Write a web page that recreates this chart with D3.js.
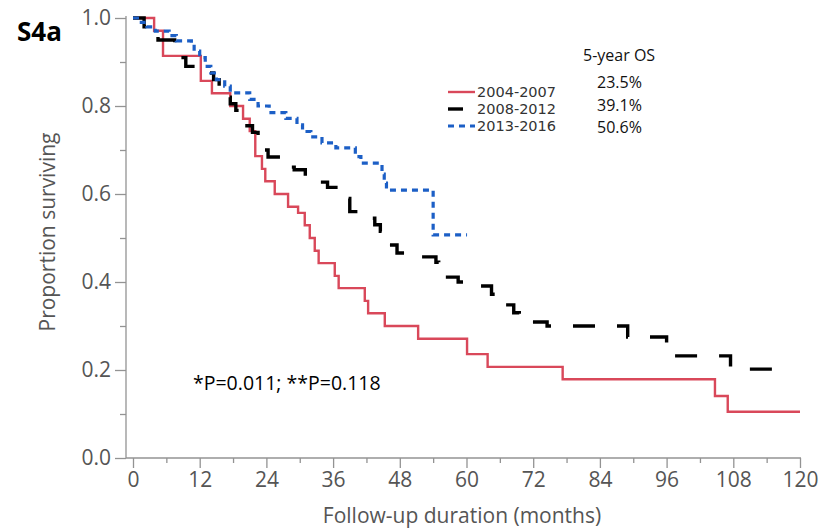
<!DOCTYPE html>
<html>
<head>
<meta charset="utf-8">
<script src="https://cdn.jsdelivr.net/npm/d3@7"></script>
<style>
  body { margin: 0; background: #fff; }
  text { font-family: "Open Sans", "Noto Sans", sans-serif; }
</style>
</head>
<body>
<svg id="chart" width="820" height="530"></svg>
<script>
// Kaplan-Meier survival estimates by diagnosis period (months, proportion surviving)
const redTimes = [0, 3.8, 5.4, 12.2, 14.2, 17.5, 19.8, 21.0, 22.0, 23.2, 23.8, 25.5, 27.9, 29.7, 30.9, 31.8, 32.7, 33.4, 36.3, 37.0, 41.7, 42.3, 45.3, 51.3, 60.1, 63.8, 77.3, 104.7, 107.0, 120];
const redSurv  = [1.0, 0.971, 0.914, 0.857, 0.829, 0.800, 0.771, 0.743, 0.686, 0.657, 0.629, 0.600, 0.571, 0.557, 0.529, 0.500, 0.471, 0.443, 0.414, 0.386, 0.357, 0.329, 0.300, 0.271, 0.236, 0.207, 0.179, 0.141, 0.105, 0.105];

const blackTimes = [0, 2, 3.5, 4.5, 7.5, 8.5, 9.5, 12.5, 14.5, 15.5, 16.5, 17.5, 18.5, 19.5, 20.5, 21.5, 22.5, 23.5, 24.3, 26.5, 29, 31, 32.5, 35, 37, 38, 39, 41.5, 43.5, 44.5, 45, 45.8, 47.5, 50, 54.5, 55, 55.8, 58.5, 60.5, 64.5, 65.5, 66.5, 68.5, 69.5, 71.5, 74.5, 89, 96, 97.5, 107.5, 118.2];
const blackSurv  = [1.0, 0.98, 0.965, 0.95, 0.93, 0.91, 0.89, 0.875, 0.86, 0.84, 0.82, 0.805, 0.79, 0.77, 0.755, 0.74, 0.72, 0.70, 0.684, 0.661, 0.655, 0.64, 0.627, 0.615, 0.60, 0.59, 0.56, 0.545, 0.53, 0.515, 0.50, 0.484, 0.466, 0.457, 0.445, 0.43, 0.411, 0.40, 0.391, 0.372, 0.36, 0.348, 0.33, 0.32, 0.309, 0.30, 0.275, 0.252, 0.232, 0.202, 0.202];

const blueTimes = [0, 1.5, 2.5, 4, 6.5, 7.8, 10.5, 11, 12, 13, 14, 15, 16.5, 17.5, 21, 22.5, 24.5, 27.5, 29.5, 30.5, 32, 34, 36.5, 40, 41, 44.8, 45.2, 45.6, 54, 60.1];
const blueSurv  = [1.0, 0.99, 0.98, 0.97, 0.96, 0.948, 0.94, 0.925, 0.91, 0.89, 0.875, 0.86, 0.845, 0.83, 0.815, 0.80, 0.785, 0.772, 0.757, 0.742, 0.73, 0.716, 0.705, 0.685, 0.67, 0.645, 0.625, 0.609, 0.507, 0.507];

const periods = ["2004-2007", "2008-2012", "2013-2016"];
const fiveYearOS = ["23.5%", "39.1%", "50.6%"];
const xTicks = [0, 12, 24, 36, 48, 60, 72, 84, 96, 108, 120];
const yTicks = [0.0, 0.2, 0.4, 0.6, 0.8, 1.0];
const pValueText = "*P=0.011; **P=0.118";

const svg = d3.select("#chart");
const x = d3.scaleLinear().domain([0, 120]).range([133, 800]);
const y = d3.scaleLinear().domain([0, 1]).range([458, 18]);
const axisX0 = 126;
const axisGrey = "#939393";
const labelGrey = "#555";

// minor ticks halfway between the labelled ones
const yMinor = d3.range(0.1, 1.0, 0.2);
const xMinor = d3.range(6, 120, 12);

svg.append("g").attr("transform", `translate(${axisX0},0)`)
  .call(d3.axisLeft(y).tickValues(yTicks).tickFormat(d3.format(".1f")).tickSize(11).tickPadding(4));
svg.append("g").attr("transform", `translate(${axisX0},0)`)
  .call(d3.axisLeft(y).tickValues(yMinor).tickFormat("").tickSize(6));

svg.append("g").attr("transform", "translate(0,458)")
  .call(d3.axisBottom(x).tickValues(xTicks).tickSize(10).tickPadding(4));
svg.append("g").attr("transform", "translate(0,458)")
  .call(d3.axisBottom(x).tickValues(xMinor).tickFormat("").tickSize(5));

svg.selectAll(".domain").remove();
svg.selectAll(".tick line").attr("stroke", axisGrey).attr("stroke-width", 1.3);
svg.selectAll(".tick text").attr("fill", labelGrey).style("font-size", "21px");

svg.append("line").attr("x1", axisX0).attr("x2", axisX0).attr("y1", 16).attr("y2", 458)
  .attr("stroke", axisGrey).attr("stroke-width", 1.3);
svg.append("line").attr("x1", axisX0).attr("x2", 801).attr("y1", 458).attr("y2", 458)
  .attr("stroke", axisGrey).attr("stroke-width", 1.3);

// axis titles
svg.append("text").attr("x", 462).attr("y", 523).attr("text-anchor", "middle")
  .attr("fill", labelGrey).style("font-size", "21px").text("Follow-up duration (months)");
svg.append("text").attr("transform", "translate(55,232) rotate(-90)").attr("text-anchor", "middle")
  .attr("fill", labelGrey).style("font-size", "21px").text("Proportion surviving");

// panel label
svg.append("text").attr("x", 17).attr("y", 41).attr("fill", "#000")
  .style("font-size", "26px").style("font-weight", "bold").text("S4a");

// survival curves
const step = d3.line().x(d => x(d[0])).y(d => y(d[1])).curve(d3.curveStepAfter);
const series = [
  { t: redTimes, s: redSurv, color: "#d9485a", width: 2.4, dash: null },
  { t: blackTimes, s: blackSurv, color: "#000", width: 3.4, dash: "22,22" },
  { t: blueTimes, s: blueSurv, color: "#1c5fc6", width: 3.2, dash: "6,5" }
];
series.forEach(sr => {
  const pts = sr.t.map((t, i) => [t, sr.s[i]]);
  svg.append("path").attr("d", step(pts)).attr("fill", "none")
    .attr("stroke", sr.color).attr("stroke-width", sr.width)
    .attr("stroke-dasharray", sr.dash);
});

// legend
const legendY = [92, 109, 126];
const legendLineEnd = [475, 463, 475];
series.forEach((sr, i) => {
  svg.append("line").attr("x1", 448).attr("x2", legendLineEnd[i])
    .attr("y1", legendY[i]).attr("y2", legendY[i])
    .attr("stroke", sr.color).attr("stroke-width", sr.width)
    .attr("stroke-dasharray", i === 2 ? "6,5" : null);
  svg.append("text").attr("x", 477).attr("y", legendY[i]).attr("dy", "0.36em")
    .attr("fill", "#333").style("font-family", "'DejaVu Sans', sans-serif")
    .style("font-size", "14.5px").text(periods[i]);
});
svg.append("text").attr("x", 583).attr("y", 55).attr("dy", "0.35em")
  .attr("fill", "#111").style("font-size", "16px").text("5-year OS");
const osY = [82, 105, 127];
fiveYearOS.forEach((v, i) => {
  svg.append("text").attr("x", 597).attr("y", osY[i]).attr("dy", "0.35em")
    .attr("fill", "#111").style("font-size", "16px").text(v);
});

svg.append("text").attr("x", 193).attr("y", 383).attr("dy", "0.35em")
  .attr("fill", "#000").style("font-size", "19.5px").text(pValueText);
</script>
</body>
</html>
